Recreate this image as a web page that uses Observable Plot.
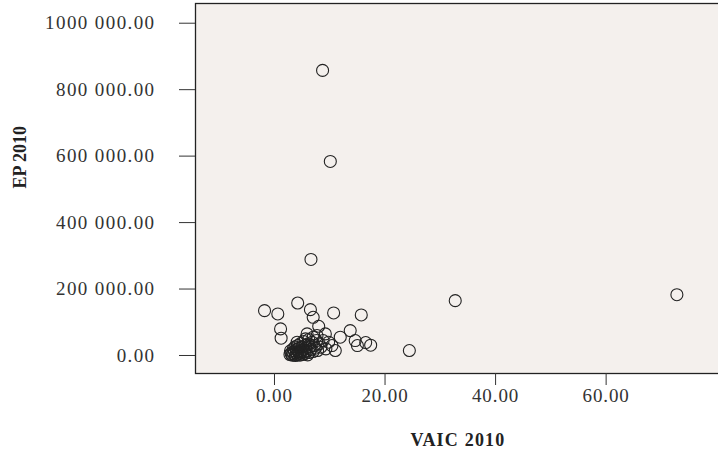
<!DOCTYPE html>
<html>
<head>
<meta charset="utf-8">
<script src="https://cdn.jsdelivr.net/npm/d3@7"></script>
<script src="https://cdn.jsdelivr.net/npm/@observablehq/plot@0.6"></script>
<style>
  html, body { margin: 0; padding: 0; background: #ffffff; overflow: hidden; }
  #chart { width: 718px; height: 449px; overflow: hidden; }
  #chart svg { max-width: none !important; }
  #chart g[aria-label="y-axis tick label"] text { letter-spacing: 1.4px; }
  #chart g[aria-label="x-axis tick label"] text { letter-spacing: 0.9px; }
  #chart g.xtitle text { letter-spacing: 1.2px; }
</style>
</head>
<body>
<div id="chart"></div>
<script>
// VAIC 2010 (x) values
const vaic = [
  8.7, 10.1, 6.6, 72.8, 32.7, 24.4,
  -1.8, 0.6, 4.2, 6.5, 7.0, 10.7, 15.7,
  1.1, 1.2, 8.0, 13.7, 11.9, 14.6, 15.0, 16.5, 17.4, 11.0,
  9.8, 10.4, 9.2, 7.7, 5.9, 4.1, 5.6,
  2.8, 3.0, 3.2, 3.3, 3.5, 3.6, 3.8, 3.9, 4.0, 4.1, 4.3, 4.4, 4.5, 4.6, 4.8, 4.9,
  5.0, 5.1, 5.2, 5.4, 5.5, 5.6, 5.7, 5.9, 6.0, 6.1, 6.3, 6.4, 6.6, 6.8, 7.0, 7.2,
  7.4, 7.6, 7.8, 8.1, 8.4, 8.8, 9.3, 3.4, 4.2, 4.7, 5.3, 6.2, 7.0, 3.7, 2.9
];
// EP 2010 (y) values
const ep = [
  858000, 584000, 289000, 183000, 165000, 15000,
  135000, 125000, 158000, 138000, 115000, 128000, 122000,
  80000, 52000, 88000, 75000, 55000, 45000, 30000, 39000, 31000, 15000,
  40000, 30000, 65000, 60000, 65000, 40000, 50000,
  3000, 6000, 1000, 10000, 4000, 14000, 0, 8000, 18000, 3000, 11000, 22000, 6000, 1000, 14000, 9000,
  26000, 3000, 18000, 11000, 6000, 30000, 22000, 14000, 2000, 35000, 9000, 26000, 18000, 40000, 12000, 30000,
  22000, 45000, 15000, 35000, 25000, 45000, 20000, 20000, 30000, 36000, 42000, 48000, 55000, 26000, 14000
];
const xTicks = [0, 20, 40, 60];
const xTickLabels = ["0.00", "20.00", "40.00", "60.00"];
const yTicks = [0, 200000, 400000, 600000, 800000, 1000000];
const yTickLabels = ["0.00", "200 000.00", "400 000.00", "600 000.00", "800 000.00", "1000 000.00"];
const xTitle = "VAIC 2010";
const yTitle = "EP 2010";

const data = vaic.map((v, i) => ({x: v, y: ep[i]}));

const chart = Plot.plot({
  width: 730,
  height: 449,
  marginLeft: 195,
  marginRight: 0,
  marginTop: 3,
  marginBottom: 76,
  style: {fontFamily: "'Liberation Serif', 'Times New Roman', serif", background: "transparent", color: "#222", maxWidth: "none"},
  x: {domain: [-14.29, 82.5]},
  y: {domain: [-54170, 1059300]},
  marks: [
    Plot.frame({fill: "#f4f0ed", stroke: "#222", strokeWidth: 1.3}),
    Plot.axisY(yTicks, {
      tickSize: 16, tickPadding: 24, stroke: "#333",
      tickFormat: (d) => yTickLabels[yTicks.indexOf(d)],
      fontSize: 19, fill: "#333", label: null
    }),
    Plot.axisX(xTicks, {
      tickSize: 12, tickPadding: 3, stroke: "#333",
      tickFormat: (d) => xTickLabels[xTicks.indexOf(d)],
      fontSize: 19, fill: "#333", label: null
    }),
    Plot.dot(data, {x: "x", y: "y", r: 6, stroke: "#222", strokeWidth: 1.1, fill: "none"}),
    Plot.text([xTitle], {frameAnchor: "bottom-left", dx: 215, dy: 72, fontSize: 18, fontWeight: "bold", fill: "#222", className: "xtitle"}),
    Plot.text([yTitle], {frameAnchor: "left", dx: -175, rotate: -90, fontSize: 18, fontWeight: "bold", fill: "#222"})
  ]
});
document.getElementById("chart").appendChild(chart);
</script>
</body>
</html>
